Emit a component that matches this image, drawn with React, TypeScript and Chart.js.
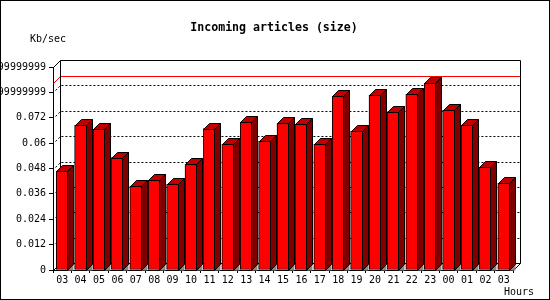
import React, { useEffect, useRef } from "react";
import { Chart, registerables } from "chart.js";

Chart.register(...registerables);

const categories = ["03","04","05","06","07","08","09","10","11","12","13","14","15","16","17","18","19","20","21","22","23","00","01","02","03"];
const sizeValues = [0.0468,0.0684,0.0665,0.0532,0.0396,0.0424,0.0405,0.0499,0.0669,0.0594,0.0698,0.0609,0.0693,0.0690,0.0594,0.0821,0.0657,0.0827,0.0746,0.0831,0.0883,0.0756,0.0685,0.0486,0.0410];
const yTickValues = [0,0.012,0.024,0.036,0.048,0.06,0.072,0.084,0.096];
const yTickLabels = ["0","0.012","0.024","0.036","0.048","0.06","0.072","0.08399999999999999","0.09599999999999999"];

const chartTitle = "Incoming articles (size)";
const yUnit = "Kb/sec";
const xUnit = "Hours";

const MONO = "'DejaVu Sans Mono', monospace";
const WALL = 7;
const BAR_DEPTH = 6;

const threeD = {
  id: "threeD",
  beforeDraw(chart: any) {
    const ctx = chart.ctx;
    ctx.save();
    ctx.fillStyle = "#FFFFFF";
    ctx.fillRect(0, 0, chart.width, chart.height);
    ctx.restore();
  },
  beforeDatasetsDraw(chart: any) {
    const { ctx, chartArea: a, scales } = chart;
    const y = scales.y;
    const L = Math.round(a.left) + 0.5;
    const R = Math.round(a.right) + 0.5;
    const T = Math.round(a.top) + 0.5;
    const B = Math.round(a.bottom) + 0.5;
    const D = WALL;
    ctx.save();
    ctx.lineWidth = 1;
    // dotted grid lines on left wall and back plane
    ctx.strokeStyle = "#000000";
    ctx.setLineDash([2, 2]);
    yTickValues.forEach((v, i) => {
      if (i === 0 || i === yTickValues.length - 1) return;
      const py = Math.round(y.getPixelForValue(v)) + 0.5;
      ctx.beginPath();
      ctx.moveTo(L + 2, py - 2);
      ctx.lineTo(L + D, py - D);
      ctx.lineTo(R + D, py - D);
      ctx.stroke();
    });
    ctx.setLineDash([]);
    // max line
    const maxVal = Math.max(...sizeValues);
    const my = Math.round(y.getPixelForValue(maxVal)) + 0.5;
    ctx.strokeStyle = "#FF0000";
    ctx.beginPath();
    ctx.moveTo(L, my);
    ctx.lineTo(L + D, my - D);
    ctx.lineTo(R + D, my - D);
    ctx.stroke();
    // frame of back plane and walls
    ctx.strokeStyle = "#000000";
    ctx.beginPath();
    ctx.moveTo(L, T);
    ctx.lineTo(L + D, T - D);
    ctx.lineTo(R + D, T - D);
    ctx.lineTo(R + D, B - D);
    ctx.lineTo(L + D, B - D);
    ctx.lineTo(L + D, T - D);
    ctx.moveTo(R, B);
    ctx.lineTo(R + D, B - D);
    ctx.moveTo(L, B);
    ctx.lineTo(L + D, B - D);
    ctx.stroke();
    ctx.restore();
  },
  afterDatasetsDraw(chart: any) {
    const { ctx } = chart;
    const meta = chart.getDatasetMeta(0);
    const d = BAR_DEPTH;
    ctx.save();
    ctx.lineWidth = 1;
    ctx.strokeStyle = "#000000";
    meta.data.forEach((el: any) => {
      const x0 = Math.round(el.x - el.width / 2) + 0.5;
      const x1 = Math.round(el.x + el.width / 2) - 0.5;
      const top = Math.round(el.y) + 0.5;
      const base = Math.round(el.base) + 0.5;
      // floor shadow
      ctx.fillStyle = "#888888";
      ctx.beginPath();
      ctx.moveTo(x1, base);
      ctx.lineTo(x1 + d, base - d);
      ctx.lineTo(x1 + d, base);
      ctx.closePath();
      ctx.fill();
      // side face
      ctx.fillStyle = "#800000";
      ctx.beginPath();
      ctx.moveTo(x1, top);
      ctx.lineTo(x1 + d, top - d);
      ctx.lineTo(x1 + d, base - d);
      ctx.lineTo(x1, base);
      ctx.closePath();
      ctx.fill();
      ctx.stroke();
      // top face
      ctx.fillStyle = "#C00000";
      ctx.beginPath();
      ctx.moveTo(x0, top);
      ctx.lineTo(x0 + d, top - d);
      ctx.lineTo(x1 + d, top - d);
      ctx.lineTo(x1, top);
      ctx.closePath();
      ctx.fill();
      ctx.stroke();
    });
    ctx.restore();
  },
  afterDraw(chart: any) {
    const { ctx } = chart;
    ctx.save();
    ctx.fillStyle = "#000000";
    ctx.textBaseline = "middle";
    ctx.textAlign = "center";
    ctx.font = `bold 11.6px ${MONO}`;
    ctx.fillText(chartTitle, 274, 28);
    ctx.font = `10px ${MONO}`;
    ctx.textAlign = "left";
    ctx.fillText(yUnit, 30, 39);
    ctx.fillText(xUnit, 504, 292);
    ctx.strokeStyle = "#000000";
    ctx.lineWidth = 1;
    ctx.strokeRect(0.5, 0.5, chart.width - 1, chart.height - 1);
    ctx.restore();
  },
};

export default function App() {
  const ref = useRef<HTMLCanvasElement | null>(null);
  useEffect(() => {
    document.body.style.margin = "0";
    if (!ref.current) return;
    const chart = new Chart(ref.current, {
      type: "bar",
      data: {
        labels: categories,
        datasets: [
          {
            data: sizeValues,
            backgroundColor: "#FF0000",
            borderColor: "#000000",
            borderWidth: 1,
            borderSkipped: false,
            barThickness: 12,
          },
        ],
      },
      options: {
        animation: false,
        responsive: false,
        devicePixelRatio: 1,
        layout: { padding: { top: 67, right: 37, left: 0, bottom: 0 } },
        plugins: {
          legend: { display: false },
          title: { display: false },
          tooltip: { enabled: false },
        },
        scales: {
          x: {
            type: "category",
            grid: {
              offset: true,
              drawOnChartArea: false,
              drawTicks: true,
              tickLength: 3,
              color: "#000000",
            },
            border: { display: true, color: "#000000" },
            ticks: {
              autoSkip: false,
              maxRotation: 0,
              minRotation: 0,
              padding: 1,
              color: "#000000",
              font: { family: "DejaVu Sans Mono", size: 10 },
            },
            afterFit: (s: any) => {
              s.height = 30;
            },
          },
          y: {
            type: "linear",
            min: 0,
            max: 0.096,
            grid: {
              drawOnChartArea: false,
              drawTicks: true,
              tickLength: 4,
              color: "#000000",
            },
            border: { display: true, color: "#000000" },
            afterBuildTicks: (s: any) => {
              s.ticks = yTickValues.map((v) => ({ value: v }));
            },
            ticks: {
              autoSkip: false,
              padding: 3,
              color: "#000000",
              font: { family: "DejaVu Sans Mono", size: 10 },
              callback: (_v: any, i: number) => yTickLabels[i],
            },
            afterFit: (s: any) => {
              s.width = 53;
            },
          },
        },
      },
      plugins: [threeD],
    });
    return () => chart.destroy();
  }, []);
  return (
    <div style={{ position: "absolute", left: 0, top: 0 }}>
      <canvas ref={ref} width={550} height={300} style={{ display: "block" }} />
    </div>
  );
}
